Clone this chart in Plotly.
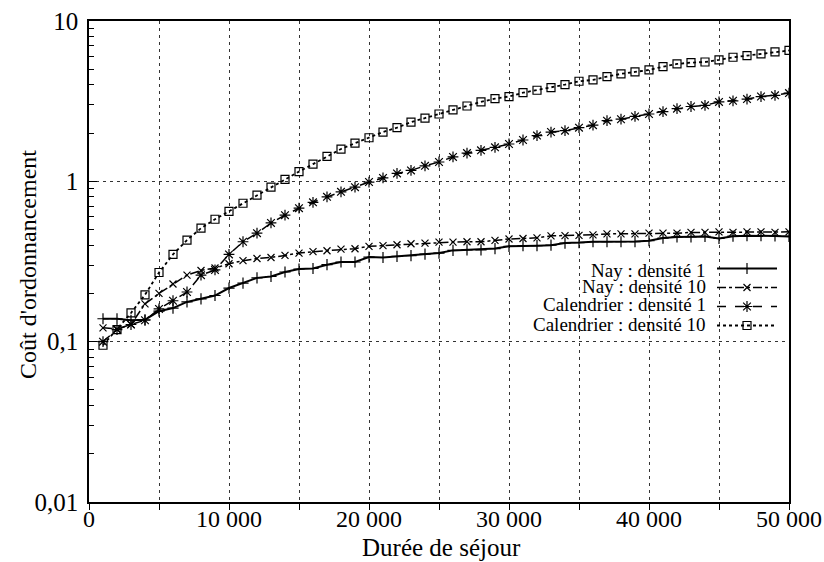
import plotly.graph_objects as go

duree = [1000, 2000, 3000, 4000, 5000, 6000, 7000, 8000, 9000, 10000,
         11000, 12000, 13000, 14000, 15000, 16000, 17000, 18000, 19000, 20000,
         21000, 22000, 23000, 24000, 25000, 26000, 27000, 28000, 29000, 30000,
         31000, 32000, 33000, 34000, 35000, 36000, 37000, 38000, 39000, 40000,
         41000, 42000, 43000, 44000, 45000, 46000, 47000, 48000, 49000, 50000]

nay_d1 = [0.139, 0.139, 0.136, 0.137, 0.155, 0.162, 0.177, 0.185, 0.194, 0.216,
          0.232, 0.250, 0.255, 0.272, 0.284, 0.286, 0.302, 0.314, 0.314, 0.337,
          0.335, 0.340, 0.344, 0.352, 0.357, 0.371, 0.374, 0.374, 0.381, 0.393,
          0.397, 0.397, 0.400, 0.412, 0.415, 0.420, 0.420, 0.420, 0.421, 0.426,
          0.443, 0.450, 0.451, 0.453, 0.440, 0.455, 0.458, 0.458, 0.456, 0.453]

nay_d10 = [0.122, 0.120, 0.128, 0.172, 0.200, 0.229, 0.260, 0.278, 0.288, 0.306,
           0.320, 0.330, 0.335, 0.345, 0.357, 0.364, 0.369, 0.378, 0.380, 0.393,
           0.397, 0.402, 0.408, 0.412, 0.418, 0.418, 0.420, 0.420, 0.428, 0.437,
           0.440, 0.444, 0.457, 0.459, 0.460, 0.464, 0.470, 0.470, 0.470, 0.475,
           0.475, 0.475, 0.480, 0.480, 0.484, 0.480, 0.484, 0.484, 0.480, 0.484]

cal_d1 = [0.100, 0.119, 0.128, 0.136, 0.160, 0.180, 0.204, 0.260, 0.280, 0.350,
          0.420, 0.475, 0.550, 0.615, 0.680, 0.740, 0.800, 0.860, 0.920, 0.990,
          1.05, 1.12, 1.17, 1.25, 1.32, 1.42, 1.50, 1.56, 1.63, 1.71,
          1.81, 1.93, 2.03, 2.07, 2.16, 2.24, 2.39, 2.44, 2.54, 2.63,
          2.72, 2.84, 2.93, 2.98, 3.13, 3.18, 3.26, 3.38, 3.44, 3.55]

cal_d10 = [0.095, 0.119, 0.151, 0.196, 0.270, 0.350, 0.430, 0.510, 0.580, 0.650,
           0.730, 0.820, 0.920, 1.03, 1.15, 1.28, 1.43, 1.59, 1.73, 1.87,
           2.03, 2.16, 2.34, 2.48, 2.63, 2.79, 2.95, 3.13, 3.28, 3.38,
           3.57, 3.70, 3.84, 4.01, 4.21, 4.29, 4.50, 4.68, 4.81, 4.95,
           5.19, 5.40, 5.50, 5.55, 5.72, 5.94, 6.08, 6.23, 6.41, 6.55]

series_names = ["Nay : densité 1", "Nay : densité 10",
                "Calendrier : densité 1", "Calendrier : densité 10"]

x_title = "Durée de séjour"
y_title = "Coût d'ordonnancement"
x_tickvals = [0, 10000, 20000, 30000, 40000, 50000]
x_ticktext = ["0", "10 000", "20 000", "30 000", "40 000", "50 000"]
y_tickvals = [0.01, 0.1, 1, 10]
y_ticktext = ["0,01", "0,1", "1", "10"]
y_minor = [m * d for d in (0.01, 0.1, 1) for m in range(2, 10)]

styles = [
    dict(dash="solid", symbol="cross-thin-open", size=8, width=2),
    dict(dash="dashdot", symbol="x-thin-open", size=7, width=1.5),
    dict(dash="dash", symbol="asterisk-open", size=9, width=1.5),
    dict(dash="dot", symbol="square-open", size=8, width=1.8),
]
values = [nay_d1, nay_d10, cal_d1, cal_d10]

FONT = "Liberation Serif, Times New Roman, serif"
GRID = dict(showgrid=True, gridcolor="#333", griddash="3px,4px", gridwidth=1)

fig = go.Figure()
for name, vals, st in zip(series_names, values, styles):
    fig.add_trace(go.Scatter(
        x=duree, y=vals, mode="lines+markers", name=" ",
        line=dict(color="black", width=st["width"], dash=st["dash"]),
        marker=dict(symbol=st["symbol"], size=st["size"], color="black",
                    line=dict(color="black", width=1.2)),
    ))

# legend labels, right-aligned next to the native legend keys
row_y = [0.4823, 0.447, 0.4096, 0.370]
for name, yy in zip(series_names, row_y):
    fig.add_annotation(text=name, xref="paper", yref="paper", x=0.884, y=yy,
                       xanchor="right", yanchor="middle", showarrow=False,
                       font=dict(family=FONT, size=19, color="black"))

# axis titles
fig.add_annotation(text=x_title, xref="paper", yref="paper", x=0.504, y=-0.0956,
                   xanchor="center", yanchor="middle", showarrow=False,
                   font=dict(family=FONT, size=25, color="black"))
fig.add_annotation(text=y_title, xref="paper", yref="paper", x=-0.087, y=0.493,
                   xanchor="center", yanchor="middle", showarrow=False, textangle=-90,
                   font=dict(family=FONT, size=24, color="black"))

fig.update_layout(
    width=824, height=562,
    margin=dict(l=89, r=35, t=21, b=60, autoexpand=False),
    paper_bgcolor="white", plot_bgcolor="white",
    font=dict(family=FONT, size=24, color="black"),
    showlegend=True,
    legend=dict(x=0.89, y=0.5156, xanchor="left", yanchor="top",
                bgcolor="rgba(0,0,0,0)", font=dict(family=FONT, size=10),
                itemwidth=60, tracegroupgap=0, traceorder="normal"),
)
fig.update_xaxes(
    range=[0, 50000], tickvals=x_tickvals, ticktext=x_ticktext,
    showline=True, linecolor="black", linewidth=1.5, mirror=True,
    ticks="outside", ticklen=6, tickcolor="black", automargin=False,
    ticklabelstandoff=-12,
    minor=dict(dtick=5000, ticks="outside", ticklen=6, tickcolor="black", **GRID),
    zeroline=False, tickfont=dict(size=24), **GRID,
)
fig.update_yaxes(
    type="log", range=[-2, 1], tickvals=y_tickvals, ticktext=y_ticktext,
    showline=True, linecolor="black", linewidth=1.5, mirror=True,
    ticks="inside", ticklen=8, tickcolor="black", automargin=False,
    ticklabelstandoff=4,
    minor=dict(tickvals=y_minor, ticks="inside", ticklen=5, tickcolor="black",
               showgrid=False),
    zeroline=False, tickfont=dict(size=25), **GRID,
)

fig.write_html("out.html", config={"displayModeBar": False},
               post_script="document.body.style.margin='0';document.body.style.padding='0';")
